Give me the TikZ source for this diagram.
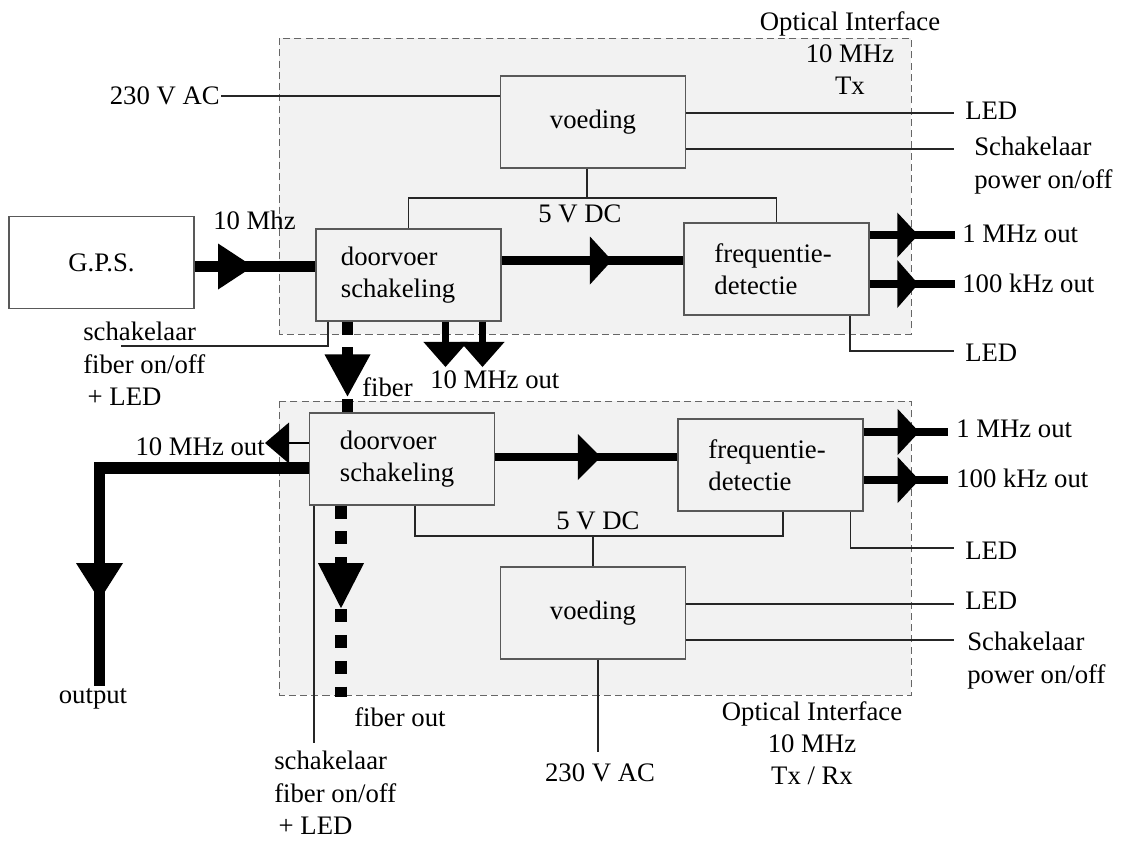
\documentclass[tikz,border=0pt]{standalone}
\usepackage{fontspec}
\setmainfont{Liberation Serif}
\usetikzlibrary{arrows.meta,decorations.markings,calc}

\begin{document}
\begin{tikzpicture}[x=0.025cm, y=-0.025cm,
    font=\fontsize{19}{23}\selectfont,
    groep/.style={fill=black!5, draw=black!60, line width=0.7pt, dash pattern=on 5pt off 3pt},
    blok/.style={draw=black!65, fill=black!5, line width=0.8pt, minimum width=4.625cm, minimum height=2.3cm, inner sep=0pt},
    tekst/.style={align=left, text width=3.1cm},
    lbl/.style={inner sep=0pt},
    dun/.style={draw=black!85, line width=0.75pt},
    dik/.style={line width=8.5pt},
    middel/.style={line width=5.7pt},
    smal/.style={line width=5pt},
    vezel/.style={line width=8.5pt, dash pattern=on 9.2pt off 9.2pt},
    kop/.style n args={3}{decoration={markings, mark=at position #1 with {\fill (-#2,-#3) -- (0,0) -- (-#2,#3) -- cycle;}}, postaction=decorate}]
    \useasboundingbox (0,0) rectangle (1121,843);

    \draw[groep] (279,38) rectangle (911,334);
    \draw[groep] (279,401) rectangle (911,695);

    \node[blok, fill=white] (gps) at (101.5,262.5) {G.P.S.};
    \node[blok, tekst, text width=3.375cm] (door1) at (408.5,275) {doorvoer\\schakeling};
    \node[blok] (voed1) at (593,122) {voeding};
    \node[blok, tekst] (freq1) at (776.5,269) {frequentie-\\detectie};
    \node[blok, tekst] (door2) at (402,459) {doorvoer\\schakeling};
    \node[blok, tekst] (freq2) at (770.5,465) {frequentie-\\detectie};
    \node[blok] (voed2) at (593,613) {voeding};

    \node[lbl, align=center, anchor=north] (opt1) at (850,11) {Optical Interface\\10 MHz\\Tx};
    \node[lbl, anchor=east] (ac1) at (220,96) {230 V AC};
    \node[lbl, anchor=west] (mhz) at (213,220) {10 Mhz};
    \node[lbl] (dc1) at (580,214) {5 V DC};
    \node[lbl, anchor=west] (fib1) at (362,387) {fiber};
    \node[lbl, anchor=west] (uit1) at (430,380) {10 MHz out};
    \node[lbl, align=left, anchor=north west] (sch1) at (83,322) {schakelaar\\fiber on/off\\\,+ LED};
    \node[lbl, anchor=west] (led1) at (965,111) {LED};
    \node[lbl, align=left, anchor=north west] (sw1) at (974,137) {Schakelaar\\power on/off};
    \node[lbl, anchor=west] (mhz1) at (962,234) {1 MHz out};
    \node[lbl, anchor=west] (khz1) at (962,283) {100 kHz out};
    \node[lbl, anchor=west] (led2) at (965,353) {LED};

    \node[lbl, anchor=east] (uit2) at (265,447) {10 MHz out};
    \node[lbl] (outp) at (93,699) {output};
    \node[lbl, anchor=west] (fib2) at (354,717) {fiber out};
    \node[lbl, align=left, anchor=north west] (sch2) at (274,751) {schakelaar\\fiber on/off\\\,+ LED};
    \node[lbl] (dc2) at (598,521) {5 V DC};
    \node[lbl, anchor=west] (mhz2) at (956,429) {1 MHz out};
    \node[lbl, anchor=west] (khz2) at (956,478) {100 kHz out};
    \node[lbl, anchor=west] (led3) at (965,551) {LED};
    \node[lbl, anchor=west] (led4) at (965,601) {LED};
    \node[lbl, align=left, anchor=north west] (sw2) at (967,632) {Schakelaar\\power on/off};
    \node[lbl] (ac2) at (600,773) {230 V AC};
    \node[lbl, align=center, anchor=north] (opt2) at (812,701) {Optical Interface\\10 MHz\\Tx / Rx};

    \coordinate (e1) at (954,113);
    \coordinate (e2) at (954,149);
    \coordinate (e3) at (955,235);
    \coordinate (e4) at (955,284);
    \coordinate (e5) at (954,351);
    \coordinate (bus1) at (587,198);
    \coordinate (lijn1) at (600,260.5);
    \coordinate (p1) at (445.5,367);
    \coordinate (p2) at (482.5,367);
    \coordinate (s1) at (121,346);

    \draw[dun] ([xshift=1pt]ac1.east) -- (ac1.east -| voed1.west);
    \draw[dun] (e1 -| voed1.east) -- (e1);
    \draw[dun] (e2 -| voed1.east) -- (e2);
    \draw[dun] (voed1.south -| bus1) -- (bus1);
    \draw[dun] (door1.north) |- (bus1) -| (freq1.north);
    \draw[dun] (freq1.south -| 850,0) |- (e5);
    \draw[dun] (door1.south -| 328,0) |- (s1);
    \draw[dik, kop={0.484}{35}{23}] ($(gps.east)+(0,4)$) -- ($(door1.west |- gps.east)+(0,4)$);
    \draw[middel, kop={0.607}{22}{24}] (door1.east |- lijn1) -- (freq1.west |- lijn1);
    \draw[middel, kop={0.57}{21}{22.5}] (e3 -| freq1.east) -- (e3);
    \draw[middel, kop={0.57}{21}{24}] (e4 -| freq1.east) -- (e4);
    \draw[vezel, kop={0.824}{42}{23}] (door1.south -| 347.5,0) -- (door2.north -| 347.5,0);
    \draw[smal, -{Triangle[length=0.625cm, width=1.1cm, line width=0pt]}] (door1.south -| p1) -- (p1);
    \draw[smal, -{Triangle[length=0.625cm, width=1.1cm, line width=0pt]}] (door1.south -| p2) -- (p2);

    \coordinate (p3) at (265,443);
    \coordinate (uit) at (99.5,686);
    \coordinate (lijn2) at (600,457);
    \coordinate (e6) at (948,432);
    \coordinate (e7) at (948,480);
    \coordinate (e8) at (954,548);
    \coordinate (e9) at (954,604);
    \coordinate (e10) at (954,640);
    \coordinate (f2) at (341,697);
    \coordinate (s2) at (314,743);
    \coordinate (bus2) at (593,536);
    \coordinate (a2) at (598,752);

    \draw[line width=2pt, -{Triangle[length=0.6cm, width=1.025cm, line width=0pt]}] (door2.west |- p3) -- (p3);
    \draw[dik, line join=miter, kop={0.799}{37}{23.5}] (door2.west |- 0,468) -| (uit);
    \draw[middel, kop={0.58}{23}{23}] (door2.east |- lijn2) -- (freq2.west |- lijn2);
    \draw[middel, kop={0.659}{21.5}{23}] (e6 -| freq2.east) -- (e6);
    \draw[middel, kop={0.659}{21.5}{23}] (e7 -| freq2.east) -- (e7);
    \draw[vezel, kop={0.536}{45}{23}] (door2.south -| f2) -- (f2);
    \draw[dun] (door2.south -| s2) -- (s2);
    \draw[dun] (door2.south -| 415,0) |- (bus2) -| (freq2.south -| 783,0);
    \draw[dun] (bus2) -- (voed2.north -| bus2);
    \draw[dun] (freq2.south -| 850.7,0) |- (e8);
    \draw[dun] (e9 -| voed2.east) -- (e9);
    \draw[dun] (e10 -| voed2.east) -- (e10);
    \draw[dun] (voed2.south -| a2) -- (a2);
\end{tikzpicture}
\end{document}
